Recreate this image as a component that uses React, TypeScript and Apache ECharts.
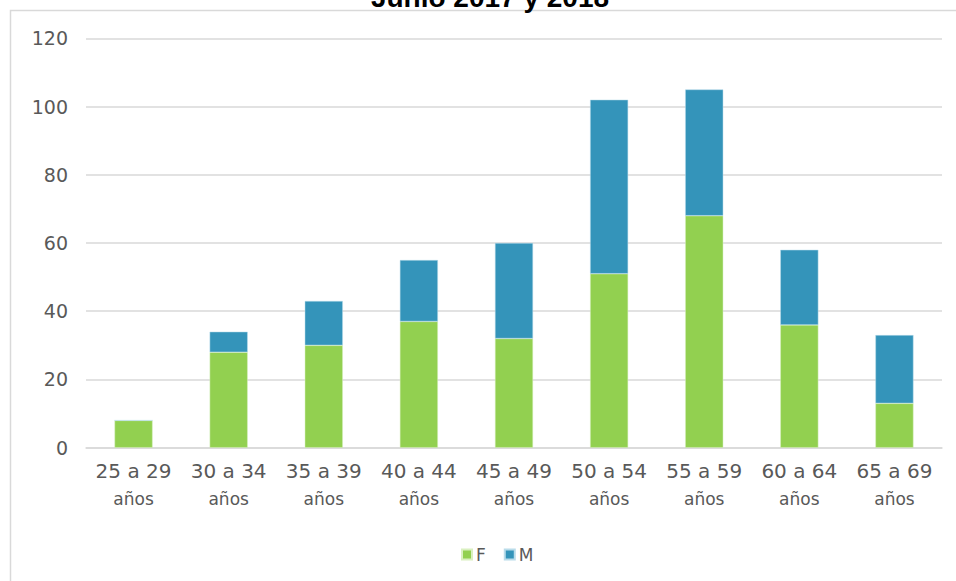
import React, { useEffect, useRef } from "react";
import * as echarts from "echarts";

const titleText = "Junio 2017 y 2018";
const categories = [
  "25 a 29\naños",
  "30 a 34\naños",
  "35 a 39\naños",
  "40 a 44\naños",
  "45 a 49\naños",
  "50 a 54\naños",
  "55 a 59\naños",
  "60 a 64\naños",
  "65 a 69\naños",
];
const seriesF = [8, 28, 30, 37, 32, 51, 68, 36, 13];
const seriesM = [0, 6, 13, 18, 28, 51, 37, 22, 20];
const yTicks = { min: 0, max: 120, interval: 20 };

const FONT = "'DejaVu Sans', sans-serif";
const GREEN = "#92D050";
const BLUE = "#3494BA";
const GRID = "#D9D9D9";
const LABEL = "#595959";

export default function App() {
  const ref = useRef<HTMLDivElement>(null);
  useEffect(() => {
    if (!ref.current) return;
    const chart = echarts.init(ref.current, null, { renderer: "svg" });
    chart.setOption({
      animation: false,
      backgroundColor: "#ffffff",
      graphic: [
        {
          type: "rect",
          shape: { x: 10.5, y: 10.5, width: 1000, height: 1000 },
          style: { fill: "none", stroke: GRID, lineWidth: 1.5 },
          silent: true,
          z: -1,
        },
        {
          type: "text",
          x: 490,
          y: 11,
          style: {
            text: titleText,
            font: "bold 28px 'Liberation Sans', Arial, sans-serif",
            fill: "#000000",
            textAlign: "center",
            textVerticalAlign: "bottom",
          },
        },
      ],
      legend: {
        left: 456,
        top: 541,
        itemWidth: 10,
        itemHeight: 10,
        itemGap: 18,
        icon: "rect",
        textStyle: { fontFamily: FONT, fontSize: 17, color: LABEL, padding: [0, 0, 0, -1] },
        data: ["F", "M"],
      },
      grid: { left: 86, right: 14, top: 38.3, bottom: 133.3, containLabel: false },
      xAxis: {
        type: "category",
        data: categories,
        axisLine: { show: true, lineStyle: { color: GRID, width: 1.5 } },
        axisTick: { show: false },
        axisLabel: {
          margin: 9,
          interval: 0,
          color: LABEL,
          fontFamily: FONT,
          formatter: (v: string) => {
            const [a, b] = v.split("\n");
            return `{a|${a}}\n{b|${b}}`;
          },
          rich: {
            a: { fontFamily: FONT, fontSize: 20, color: LABEL, lineHeight: 28 },
            b: { fontFamily: FONT, fontSize: 17, color: LABEL, lineHeight: 28 },
          },
        },
      },
      yAxis: {
        type: "value",
        min: yTicks.min,
        max: yTicks.max,
        interval: yTicks.interval,
        axisLine: { show: false },
        axisTick: { show: false },
        splitLine: { lineStyle: { color: GRID, width: 1.5 } },
        axisLabel: { margin: 18, color: LABEL, fontFamily: FONT, fontSize: 19 },
      },
      series: [
        {
          name: "F",
          type: "bar",
          stack: "total",
          data: seriesF,
          barWidth: "40%",
          itemStyle: { color: GREEN, borderColor: "#d9f0c0", borderWidth: 0.5 },
        },
        {
          name: "M",
          type: "bar",
          stack: "total",
          data: seriesM,
          barWidth: "40%",
          itemStyle: { color: BLUE, borderColor: "#b9dcea", borderWidth: 0.5 },
        },
      ],
    });
    return () => chart.dispose();
  }, []);
  return (
    <div
      ref={ref}
      style={{ position: "fixed", left: 0, top: 0, width: 956, height: 581 }}
    />
  );
}
